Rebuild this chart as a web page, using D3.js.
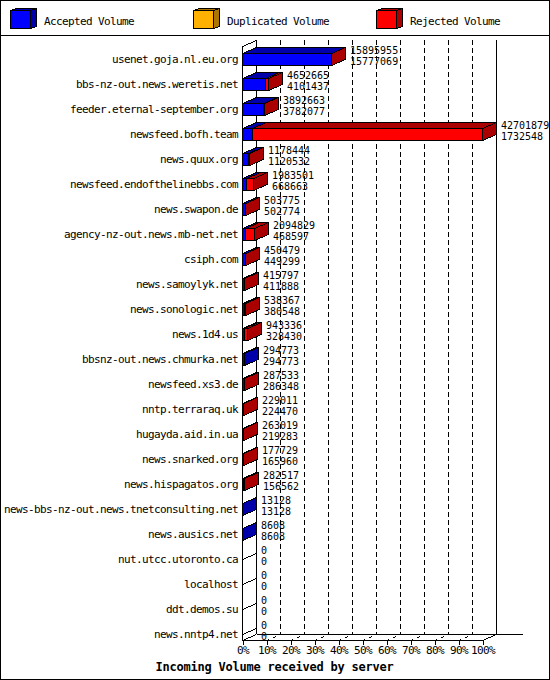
<!DOCTYPE html>
<html>
<head>
<meta charset="utf-8">
<script src="https://cdn.jsdelivr.net/npm/d3@7"></script>
<style>
  body { margin: 0; background: #fff; }
  svg { display: block; }
  text { font-family: "DejaVu Sans Mono", monospace; font-size: 11px; letter-spacing: -0.62px; fill: #000; }
  .value { font-size: 10px; letter-spacing: 0; }
  .title { font-weight: bold; font-size: 12px; letter-spacing: -0.22px; }
</style>
</head>
<body>
<svg id="chart"></svg>
<script>
const WIDTH = 550, HEIGHT = 680;
const DX = 14, DY = 6;      // depth of the 3d plot
const BAR_HALF = 6;         // half height of a bar front face

// data
const servers = [
  'usenet.goja.nl.eu.org', 'bbs-nz-out.news.weretis.net', 'feeder.eternal-september.org',
  'newsfeed.bofh.team', 'news.quux.org', 'newsfeed.endofthelinebbs.com', 'news.swapon.de',
  'agency-nz-out.news.mb-net.net', 'csiph.com', 'news.samoylyk.net', 'news.sonologic.net',
  'news.1d4.us', 'bbsnz-out.news.chmurka.net', 'newsfeed.xs3.de', 'nntp.terraraq.uk',
  'hugayda.aid.in.ua', 'news.snarked.org', 'news.hispagatos.org',
  'news-bbs-nz-out.news.tnetconsulting.net', 'news.ausics.net', 'nut.utcc.utoronto.ca',
  'localhost', 'ddt.demos.su', 'news.nntp4.net'
];
const accepted = [
  15777069, 4101437, 3782077, 1732548, 1120532, 668663, 502774, 468597, 449299, 411888,
  380548, 328430, 294773, 286348, 224470, 219283, 165960, 156562, 13128, 8608, 0, 0, 0, 0
];
const duplicated = [
  0, 0, 0, 0, 0, 0, 0, 0, 0, 0, 0, 0, 0, 0, 0, 0, 0, 0, 0, 0, 0, 0, 0, 0
];
const rejected = [
  118886, 551228, 110586, 40969331, 57912, 1314838, 1001, 1626232, 1180, 3909,
  157819, 614906, 0, 1185, 4541, 43736, 11769, 125955, 0, 0, 0, 0, 0, 0
];
const percentTicks = [0, 10, 20, 30, 40, 50, 60, 70, 80, 90, 100];
const seriesNames = ['Accepted Volume', 'Duplicated Volume', 'Rejected Volume'];

const series = [
  {name: seriesNames[0], values: accepted, color: '#0000ff', dark: '#0000aa'},
  {name: seriesNames[1], values: duplicated, color: '#ffb000', dark: '#aa7500'},
  {name: seriesNames[2], values: rejected, color: '#ff0000', dark: '#aa0000'}
];
const totals = servers.map((s, i) => d3.sum(series, d => d.values[i]));

const px = v => Math.round(v) + 0.5;

const svg = d3.select('#chart')
  .attr('width', WIDTH).attr('height', HEIGHT)
  .attr('shape-rendering', 'crispEdges');

svg.append('rect')
  .attr('x', 0.5).attr('y', 0.5)
  .attr('width', WIDTH - 1).attr('height', HEIGHT - 1)
  .attr('fill', '#fff').attr('stroke', '#000');

/* legend */
function drawBox(g, x0, x1, yTop, yBottom, dx, dy, s) {
  g.append('polygon')   // top face
    .attr('points', [[x0, yTop], [x0 + dx, yTop - dy], [x1 + dx, yTop - dy], [x1, yTop]].join(' '))
    .attr('fill', s.dark).attr('stroke', '#000');
  g.append('polygon')   // side face
    .attr('points', [[x1, yTop], [x1 + dx, yTop - dy], [x1 + dx, yBottom - dy], [x1, yBottom]].join(' '))
    .attr('fill', s.dark).attr('stroke', '#000');
  g.append('rect')      // front face
    .attr('x', x0).attr('y', yTop)
    .attr('width', x1 - x0).attr('height', yBottom - yTop)
    .attr('fill', s.color).attr('stroke', '#000');
}

const legendX = d3.scalePoint().domain(seriesNames).range([10, 376]);
const legend = svg.append('g');
series.forEach(s => {
  const lx = legendX(s.name);
  drawBox(legend, lx + 0.5, lx + 20.5, 10.5, 28.5, 6, 2, s);
  legend.append('text').attr('x', lx + 34).attr('y', 24.5).text(s.name);
});
svg.append('line')
  .attr('x1', 0).attr('x2', WIDTH).attr('y1', 35.5).attr('y2', 35.5)
  .attr('stroke', '#000');

/* plot */
const x = d3.scaleLinear().domain([0, d3.max(totals)]).range([242, 482]);
const pct = d3.scaleLinear().domain([0, 100]).range([242, 482]);
const y = d3.scalePoint().domain(servers).range([59, 634]);
const FRONT_TOP = 46, FRONT_BOTTOM = 640;

const plot = svg.append('g');
function line(g, x1, y1, x2, y2, dash) {
  const l = g.append('line')
    .attr('x1', x1).attr('y1', y1).attr('x2', x2).attr('y2', y2)
    .attr('stroke', '#000');
  if (dash) l.attr('stroke-dasharray', dash);
  return l;
}

// back wall grid
percentTicks.forEach(t => {
  const bx = px(pct(t) + DX);
  if (t > 0 && t < 100) line(plot, bx, FRONT_TOP - DY, bx, FRONT_BOTTOM - DY, '5,3');
});
line(plot, px(pct(0) + DX), FRONT_TOP - DY, px(pct(0) + DX), FRONT_BOTTOM - DY);
line(plot, px(pct(100) + DX), FRONT_TOP - DY, px(pct(100) + DX), FRONT_BOTTOM - DY + 0.5);

// floor
percentTicks.forEach(t => {
  const fx = px(pct(t));
  line(plot, fx, FRONT_BOTTOM + 0.5, fx + DX, FRONT_BOTTOM - DY + 0.5,
       (t > 0 && t < 100) ? '3,4' : null);
});
line(plot, px(pct(0)), FRONT_BOTTOM + 0.5, px(pct(100)), FRONT_BOTTOM + 0.5);
line(plot, px(pct(0) + DX), FRONT_BOTTOM - DY + 0.5, 523, FRONT_BOTTOM - DY + 0.5);

// left wall
line(plot, px(pct(0)), FRONT_TOP, px(pct(0)), FRONT_BOTTOM + 0.5);
line(plot, px(pct(0)), FRONT_TOP + 0.5, px(pct(0) + DX), FRONT_TOP - DY + 0.5);
servers.forEach(s => {
  const c = Math.round(y(s)) + 0.5;
  line(plot, px(pct(0)), c, px(pct(0)) + DX, c - DY);
});

// bars
const bars = plot.append('g');
servers.forEach((s, i) => {
  const c = Math.round(y(s));
  let cum = 0;
  series.forEach(ser => {
    const v = ser.values[i];
    if (v <= 0) return;
    const x0 = px(x(cum)), x1 = px(x(cum + v));
    drawBox(bars, x0, x1, c - BAR_HALF + 0.5, c + BAR_HALF + 0.5, DX, DY, ser);
    cum += v;
  });
});

// category labels and the two value lines
const labels = plot.append('g');
servers.forEach((s, i) => {
  const c = Math.round(y(s));
  labels.append('text')
    .attr('x', 238).attr('y', c + 4)
    .attr('text-anchor', 'end')
    .text(s);
  const vx = Math.round(x(totals[i])) + DX + 5;
  labels.append('text').attr('class', 'value').attr('x', vx).attr('y', c - 5).text(totals[i]);
  labels.append('text').attr('class', 'value').attr('x', vx).attr('y', c + 6).text(accepted[i]);
});

// percent axis
const axis = svg.append('g')
  .attr('transform', `translate(0.5,${FRONT_BOTTOM + 0.5})`)
  .call(d3.axisBottom(pct).tickValues(percentTicks).tickFormat(d => d + '%').tickSize(4).tickPadding(2));
axis.select('.domain').remove();
axis.selectAll('line').attr('stroke', '#000');
axis.selectAll('text').attr('font-family', null).attr('font-size', null).attr('fill', '#000');

svg.append('text')
  .attr('class', 'title')
  .attr('x', 274.5).attr('y', 671)
  .attr('text-anchor', 'middle')
  .text('Incoming Volume received by server');
</script>
</body>
</html>
